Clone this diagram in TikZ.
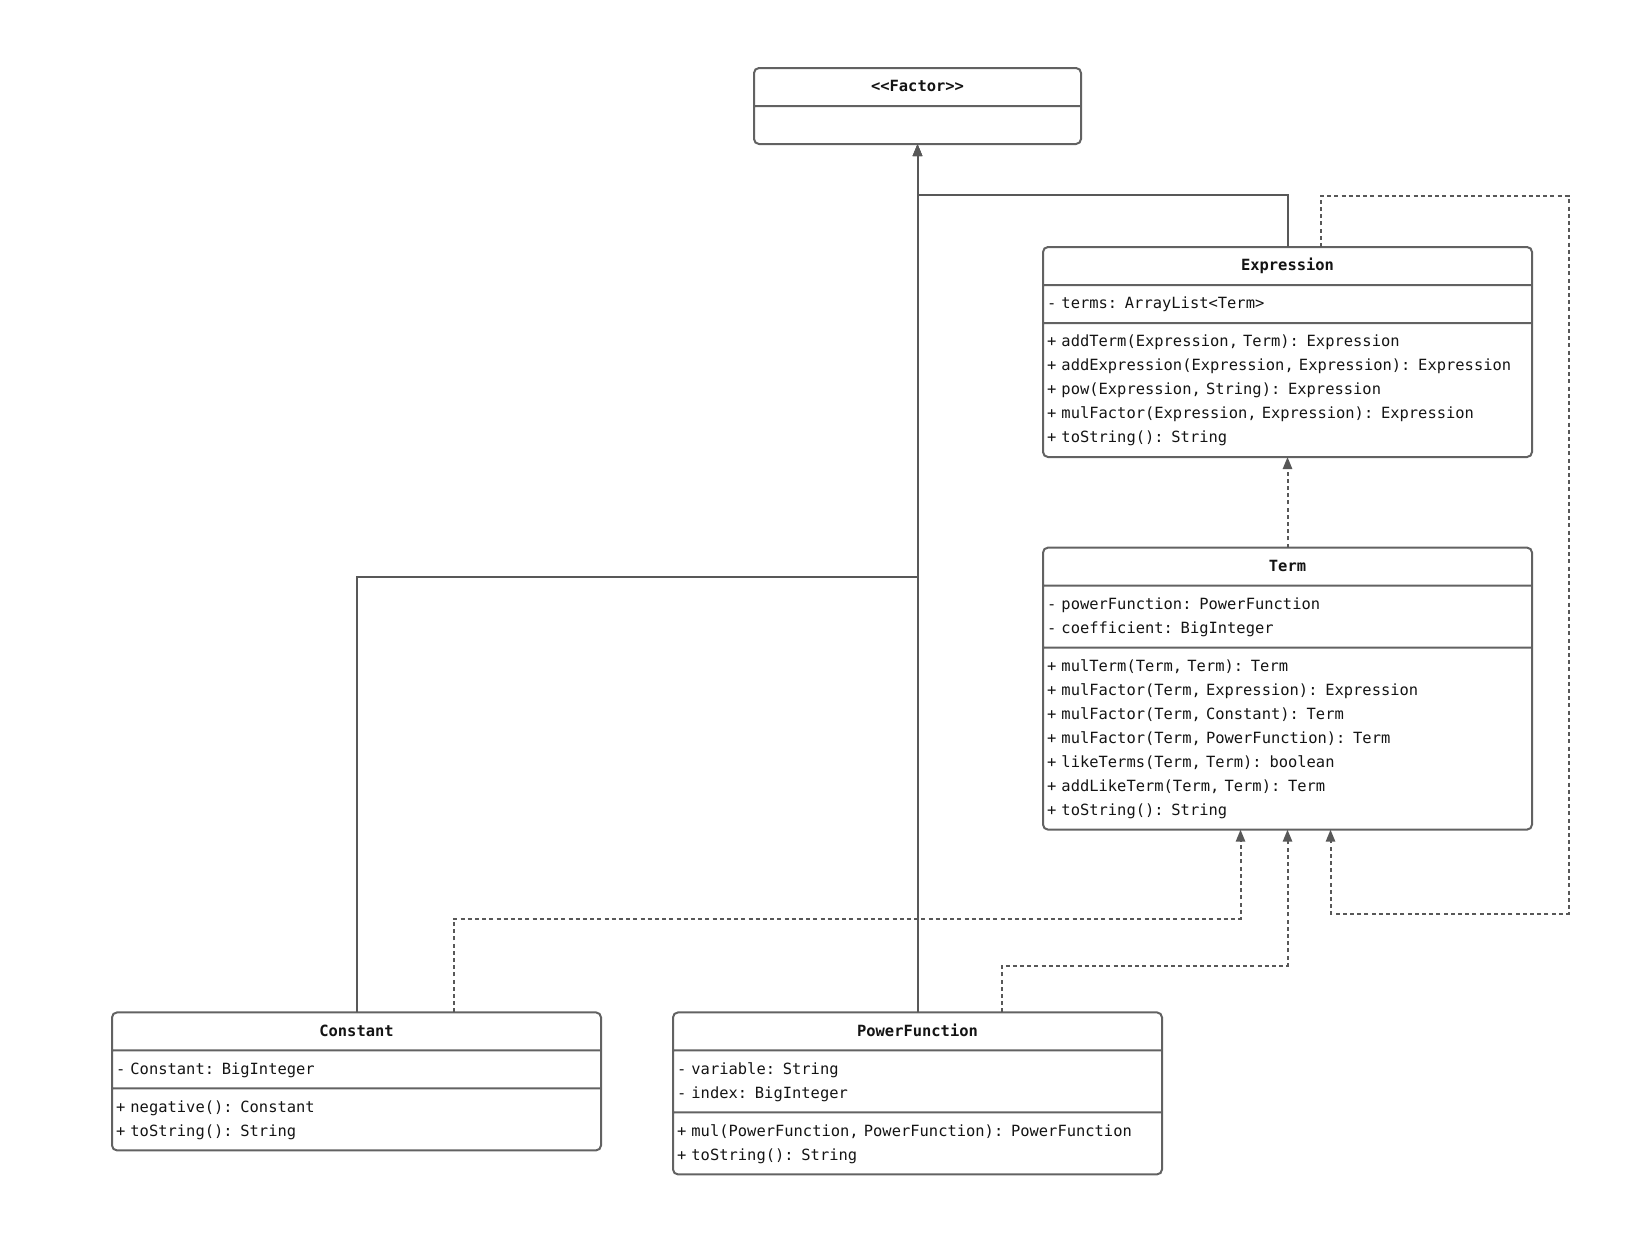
\documentclass[tikz,border=0pt]{standalone}
\usepackage{fontspec}
\usepackage{tikz}
\usetikzlibrary{shapes.multipart,arrows.meta,calc}
\newfontfamily\umlmono{DejaVu Sans Mono}
\newcommand{\umlfont}{\umlmono\fontsize{7.72}{12}\selectfont}
\newcommand{\umltitle}[1]{\noindent\hbox to\hsize{\hfil\strut\textbf{#1}\hfil}}
\definecolor{linegray}{RGB}{98,98,98}
\definecolor{arrowgray}{RGB}{88,88,88}
\definecolor{textblack}{RGB}{20,20,20}

\tikzset{
    umlclass/.style={rectangle split, rectangle split parts=3, draw=linegray,
        line width=1pt, rounded corners=2.5pt, text width=240.5pt,
        inner xsep=2pt, inner ysep=3pt, outer sep=0pt, anchor=north west,
        font=\umlfont, text=textblack, align=left},
    inherit/.style={-{Triangle[length=6pt,width=4.6pt]}, draw=arrowgray, line width=1pt},
    depend/.style={inherit, dash pattern=on 2pt off 1.6pt}
}

\begin{document}
\begin{tikzpicture}[x=0.5pt, y=-0.5pt]
    \useasboundingbox (0,0) rectangle (1641,1232);

    % Interface
    \node[umlclass, rectangle split parts=2, text width=159.5pt] (factor) at (754,68)
        {\umltitle{<<Factor>>}\nodepart{two}\strut};

    % Classes
    \node[umlclass] (expr) at (1043,247)
        {\umltitle{Expression}
        \nodepart{two}\strut - terms: ArrayList<Term>
        \nodepart{three}\strut + addTerm(Expression, Term): Expression\\
        \strut + addExpression(Expression, Expression): Expression\\
        \strut + pow(Expression, String): Expression\\
        \strut + mulFactor(Expression, Expression): Expression\\
        \strut + toString(): String};

    \node[umlclass] (term) at (1043,547.6)
        {\umltitle{Term}
        \nodepart{two}\strut - powerFunction: PowerFunction\\
        \strut - coefficient: BigInteger
        \nodepart{three}\strut + mulTerm(Term, Term): Term\\
        \strut + mulFactor(Term, Expression): Expression\\
        \strut + mulFactor(Term, Constant): Term\\
        \strut + mulFactor(Term, PowerFunction): Term\\
        \strut + likeTerms(Term, Term): boolean\\
        \strut + addLikeTerm(Term, Term): Term\\
        \strut + toString(): String};

    \node[umlclass] (const) at (112,1012.4)
        {\umltitle{Constant}
        \nodepart{two}\strut - Constant: BigInteger
        \nodepart{three}\strut + negative(): Constant\\
        \strut + toString(): String};

    \node[umlclass] (power) at (673,1012.4)
        {\umltitle{PowerFunction}
        \nodepart{two}\strut - variable: String\\
        \strut - index: BigInteger
        \nodepart{three}\strut + mul(PowerFunction, PowerFunction): PowerFunction\\
        \strut + toString(): String};

    % Inheritance
    \draw[inherit] (power.north) -- (factor.south);
    \draw[inherit] (expr.north) -- ++(0,-52) -| (factor.south);
    \draw[inherit] (const.north) -- ++(0,-435.4) -| (factor.south);

    % Dependencies
    \draw[depend] (term.north) -- (expr.south);
    \draw[depend] ($(const.north)+(97,0)$) |- ($(term.south)+(-47,89)$) -- ($(term.south)+(-47,0)$);
    \draw[depend] ($(power.north)+(84.5,0)$) |- ($(term.south)+(0,136)$) -- (term.south);
    \draw[depend] ($(expr.north)+(33,0)$) -- ++(0,-51) -| ($(term.south)+(281,84)$) -| ($(term.south)+(43,0)$);
\end{tikzpicture}
\end{document}
